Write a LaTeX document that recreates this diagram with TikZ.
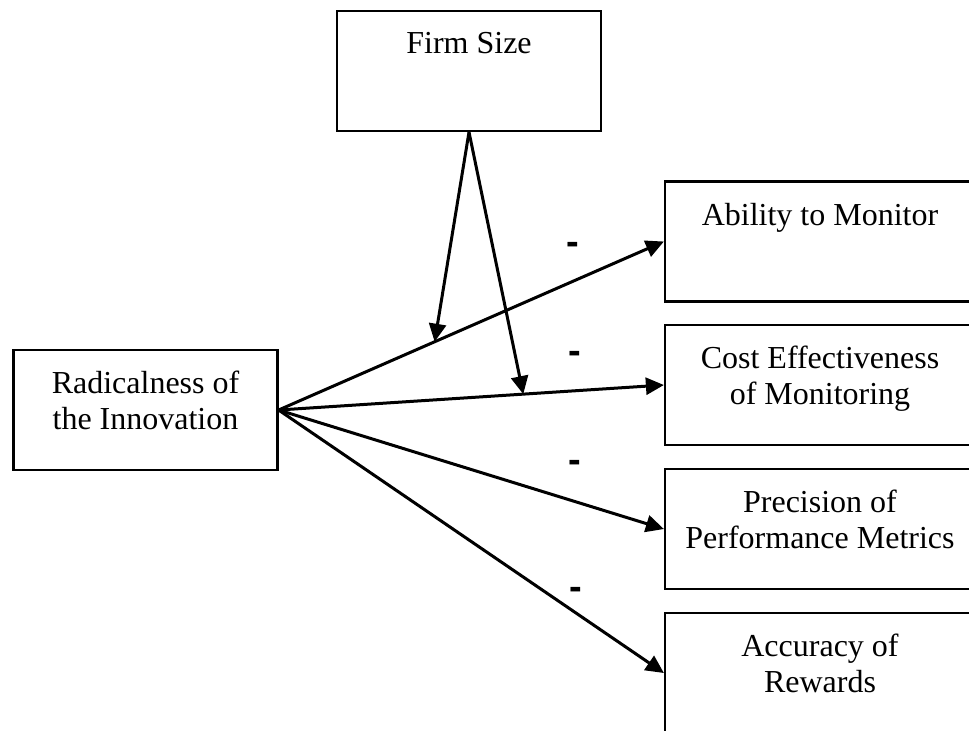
\documentclass[tikz,border=0pt]{standalone}
\usepackage{fontspec}
\setmainfont{Liberation Serif}
\newfontfamily\signfont{Liberation Sans}
\usetikzlibrary{arrows.meta}

\tikzset{
  frame/.style={draw=black, line width=1.1pt, minimum width=132pt, minimum height=60pt, inner sep=0pt},
  wideframe/.style={frame, minimum width=155pt},
  caption/.style={anchor=north, align=center, inner sep=0pt, yshift=-11pt, font=\fontsize{16}{18}\selectfont},
  link/.style={draw=black, line width=1.5pt, -{Triangle[length=9pt,width=8.5pt]}},
  sign/.style={inner sep=0pt, font=\signfont\bfseries\fontsize{19}{20}\selectfont}
}

\begin{document}
\begin{tikzpicture}[x=0.5pt, y=-0.5pt]
  \useasboundingbox (0,0) rectangle (969,730);

  % boxes
  \node[frame] (firm) at (469,71) {};
  \node[frame] (radical) at (145.5,410) {};
  \node[wideframe] (ability) at (820,241.5) {};
  \node[wideframe] (cost) at (820,385) {};
  \node[wideframe] (precision) at (820,529) {};
  \node[wideframe] (accuracy) at (820,673) {};

  % box texts sit at the top of each box
  \node[caption] (firmText) at (firm.north) {Firm Size};
  \node[caption] (radicalText) at (radical.north) {Radicalness of\\the Innovation};
  \node[caption] (abilityText) at (ability.north) {Ability to Monitor};
  \node[caption] (costText) at (cost.north) {Cost Effectiveness\\of Monitoring};
  \node[caption] (precisionText) at (precision.north) {Precision of\\Performance Metrics};
  \node[caption] (accuracyText) at (accuracy.north) {Accuracy of\\Rewards};

  % main effects
  \draw[link] (radical.east) -- (ability.west) coordinate[pos=0.405] (onAbility);
  \draw[link] (radical.east) -- (cost.west) coordinate[pos=0.635] (onCost);
  \draw[link] (radical.east) -- (precision.west);
  \draw[link] (radical.east) -- (accuracy.west);

  % moderation by firm size
  \draw[link] (firm.south) -- (onAbility);
  \draw[link] (firm.south) -- (onCost);

  % signs
  \node[sign] (signAbility) at (573,248) {-};
  \node[sign] (signCost) at (575,357) {-};
  \node[sign] (signPrecision) at (575,466) {-};
  \node[sign] (signAccuracy) at (576,593) {-};
\end{tikzpicture}
\end{document}
